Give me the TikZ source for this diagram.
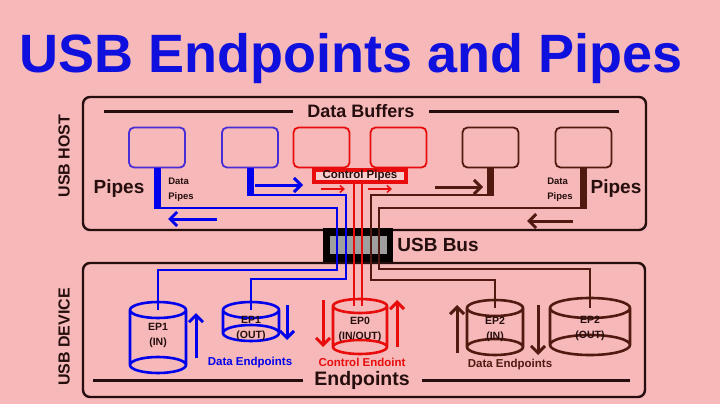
\documentclass[tikz,border=0pt]{standalone}
\usepackage{fontspec}
\setmainfont{Liberation Sans}
\usepackage{tikz}
\usetikzlibrary{positioning, calc, arrows.meta}

\definecolor{bg}{RGB}{246,184,184}
\definecolor{titleblue}{RGB}{16,16,222}
\definecolor{usbblue}{RGB}{0,0,236}
\definecolor{bufblue}{RGB}{72,46,214}
\definecolor{usbred}{RGB}{232,12,12}
\definecolor{usbbrown}{RGB}{80,26,16}
\definecolor{ink}{RGB}{38,14,14}

\begin{document}
\begin{tikzpicture}[x=1pt,y=-1pt, font=\bfseries,
	frame/.style={shape=rectangle, draw=ink, line width=2.4pt, rounded corners=7pt, inner sep=0},
	buffer/.style={shape=rectangle, draw, line width=1.8pt, rounded corners=5pt, minimum width=56, minimum height=40, inner sep=0},
	caption/.style={inner sep=0, text=ink},
	big/.style={font=\bfseries\fontsize{19}{20}\selectfont},
	small/.style={font=\bfseries\fontsize{9.5}{15}\selectfont, align=left},
	eplabel/.style={caption, align=center, font=\bfseries\fontsize{10.5}{15}\selectfont},
	rule/.style={draw=ink, line width=3pt},
	stem/.style={line width=7pt, shorten >=-1.4pt},
	pipe/.style={line width=2.8pt},
	drum/.style={line width=2.6pt},
	flow/.style={line width=3pt, -{Straight Barb[length=7pt,width=14pt]}},
	thin flow/.style={line width=1.5pt, -{Straight Barb[length=4pt,width=7pt]}}]

\fill[bg] (0,0) rectangle (720,404);
\useasboundingbox (0,0) rectangle (720,404);

\node[anchor=base, inner sep=0, text=titleblue, font=\bfseries\fontsize{54}{54}\selectfont] (title) at (351,72) {USB Endpoints and Pipes};

% host and device frames
\node[frame, minimum width=563, minimum height=133] (host) at (364.5,163.5) {};
\node[frame, minimum width=562, minimum height=134] (device) at (364,330) {};
\node[caption, rotate=90, font=\bfseries\fontsize{16}{16}\selectfont] (host label) at (64,156) {USB HOST};
\node[caption, rotate=90, font=\bfseries\fontsize{16}{16}\selectfont] (device label) at (64,337) {USB DEVICE};

\node[caption, big, font=\bfseries\fontsize{18}{18}\selectfont] (buf title) at (361,111) {Data Buffers};
\draw[rule] ([xshift=-14]buf title.west) -- ++(-189,0);
\draw[rule] ([xshift=14]buf title.east) -- ++(190,0);

\foreach \i/\cx/\col in {1/157/bufblue, 2/250/bufblue, 3/321.5/usbred, 4/398.5/usbred, 5/490.5/usbbrown, 6/583.5/usbbrown}
	\node[buffer, draw=\col] (buf \i) at (\cx,147.5) {};

\node[caption, big] (pipes left) at (119,189) {Pipes};
\node[caption, small] (data pipes left) at (181,190) {Data\\Pipes};
\node[caption, big] (pipes right) at (616,189) {Pipes};
\node[caption, small] (data pipes right) at (560,190) {Data\\Pipes};

% the bus
\node[shape=rectangle, fill=black!85!ink, minimum width=70, minimum height=34, inner sep=0] (bus) at (358,245) {};
\node[shape=rectangle, fill=gray!75, minimum width=57, minimum height=18, inner sep=0] (bus core) at (bus) {};
\node[caption, big, right=4pt of bus] (bus label) {USB Bus};

% endpoints
\foreach \nm/\cx/\rx/\ry/\yt/\yb/\ly/\col/\lab in {
	ep1 in/158/28/8/310/365/335/usbblue/{EP1\\(IN)},
	ep1 out/251/28/8/310/333/328/usbblue/{EP1\\(OUT)},
	ep0/360/27/7/306/347/329/usbred/{EP0\\(IN/OUT)},
	ep2 in/495/28/8/308/347/329/usbbrown/{EP2\\(IN)},
	ep2 out/590/40/10/308/345/328/usbbrown/{EP2\\(OUT)}} {
	\draw[drum, draw=\col] (\cx-\rx,\yt) -- (\cx-\rx,\yb) (\cx+\rx,\yt) -- (\cx+\rx,\yb)
		(\cx,\yt) ellipse [x radius=\rx pt, y radius=\ry pt]
		(\cx,\yb) ellipse [x radius=\rx pt, y radius=\ry pt];
	\coordinate (top-\nm) at (\cx,\yt);
	\node[eplabel] (\nm) at (\cx,\ly) {\lab};
}

\node[caption, big, font=\bfseries\fontsize{19.5}{20}\selectfont] (ep title) at (362,380) {Endpoints};
\draw[rule] ([xshift=-11]ep title.west) -- ++(-210,0);
\draw[rule] ([xshift=12]ep title.east) -- ++(208,0);
\node[caption, text=usbblue, font=\bfseries\fontsize{11.5}{11.5}\selectfont] (data eps left) at (250,363) {Data Endpoints};
\node[caption, text=usbred, font=\bfseries\fontsize{11.5}{11.5}\selectfont] (ctrl eps) at (362,362) {Control Endoint};
\node[caption, text=usbbrown, font=\bfseries\fontsize{11.5}{11.5}\selectfont] (data eps right) at (510,365) {Data Endpoints};

% data pipes through the bus
\coordinate (up-1) at (337,208); \coordinate (down-1) at (337,270);
\coordinate (up-2) at (346,195); \coordinate (down-2) at (346,279);
\coordinate (up-5) at (371,195); \coordinate (down-5) at (371,280);
\coordinate (up-6) at (379,208); \coordinate (down-6) at (379,269);
\foreach \i/\ep/\col in {1/ep1 in/usbblue, 2/ep1 out/usbblue, 5/ep2 in/usbbrown, 6/ep2 out/usbbrown} {
	\draw[stem, draw=\col] (buf \i.south) -- (buf \i.south |- up-\i);
	\draw[pipe, draw=\col] (buf \i.south |- up-\i) -- (up-\i) -- (down-\i) -| (top-\ep);
}

% control pipes
\node[shape=rectangle, draw=usbred, line width=3.5pt, fill=bg!70!white, minimum width=92, minimum height=12, inner sep=0, text=ink, font=\bfseries\fontsize{11.5}{11.5}\selectfont] (ctrl) at (360,176) {Control Pipes};
\foreach \dx in {-6,2}
	\draw[pipe, usbred] ([xshift=\dx]ctrl.south) -- ([xshift=\dx]top-ep0);

\foreach \col/\xa/\ya/\xb/\yb in {usbblue/255/185/303/185, usbblue/217/219/168/219, usbbrown/435/187/483/187, usbbrown/573/221/527/221,
	usbblue/196/358/196/313, usbblue/287/305/287/340, usbred/323/300/323/347, usbred/397/347/397/300, usbbrown/457/353/457/305, usbbrown/538/305/538/355}
	\draw[flow, \col] (\xa,\ya) -- (\xb,\yb);
\foreach \xa in {321,368}
	\draw[thin flow, usbred] (\xa,189) -- ++(24,0);
\end{tikzpicture}
\end{document}
